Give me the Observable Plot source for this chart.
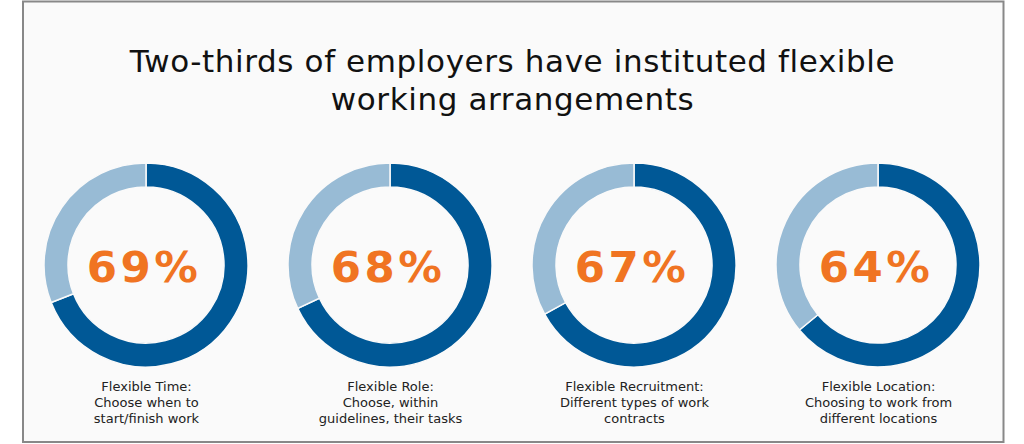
<!DOCTYPE html>
<html><head><meta charset="utf-8">
<script src="https://cdn.jsdelivr.net/npm/d3@7"></script>
<script src="https://cdn.jsdelivr.net/npm/@observablehq/plot@0.6"></script>
<style>
html,body{margin:0;padding:0;background:#ffffff;}
svg{display:block;}
</style>
</head><body>
<div id="chart"></div>
<script>
const categories = ["Flexible Time", "Flexible Role", "Flexible Recruitment", "Flexible Location"];
const values = [69, 68, 67, 64];
const descriptions = [
  "Choose when to\nstart/finish work",
  "Choose, within\nguidelines, their tasks",
  "Different types of work\ncontracts",
  "Choosing to work from\ndifferent locations"
];
const titleLines = "Two-thirds of employers have instituted flexible\nworking arrangements";

const data = categories.map((c, i) => ({cat: c, value: values[i], label: `${c}:\n${descriptions[i]}`}));

const darkBlue = "#005896";
const lightBlue = "#98bbd5";
const orange = "#f07422";
const font = "'DejaVu Sans', Verdana, sans-serif";

function donuts(index, scales, values_, dims) {
  const g = d3.create("svg:g");
  const bw = scales.x.bandwidth ? scales.x.bandwidth() : 0;
  const outer = 102, inner = 78, cy = 265;
  const arc = d3.arc().innerRadius(inner).outerRadius(outer);
  for (const d of data) {
    const cx = scales.x(d.cat) + bw / 2;
    const pie = d3.pie().sort(null).value(v => v)([d.value, 100 - d.value]);
    const gg = g.append("g").attr("transform", `translate(${cx},${cy})`);
    gg.selectAll("path").data(pie).join("path")
      .attr("d", arc)
      .attr("fill", (p, i) => i === 0 ? darkBlue : lightBlue)
      .attr("stroke", "#fafafa")
      .attr("stroke-width", 1.5);
  }
  return g.node();
}

const titleMark = Plot.text([titleLines], {
  frameAnchor: "top", dy: 43.5, text: d => d,
  fontSize: 31, fill: "#111", lineHeight: 1.25, lineAnchor: "top", fontFamily: font,
  render(index, scales, values_, dims, context, next) {
    const g = next(index, scales, values_, dims, context);
    g.setAttribute("letter-spacing", "0.6px");
    return g;
  }
});

const pctMark = Plot.text(data, {
  x: "cat", frameAnchor: "top", dy: 267.5, dx: -2.5, text: d => `${d.value}%`,
  fontSize: 43.5, fontWeight: "bold", fill: orange, lineAnchor: "middle", fontFamily: font,
  render(index, scales, values_, dims, context, next) {
    const g = next(index, scales, values_, dims, context);
    g.setAttribute("letter-spacing", "3.5px");
    return g;
  }
});

const plot = Plot.plot({
  width: 1024,
  height: 444,
  margin: 0,
  style: {background: "transparent", fontFamily: font},
  x: {type: "band", domain: categories, range: [22.7, 1001.3], padding: 0, axis: null},
  y: {axis: null},
  marks: [
    () => {
      const r = d3.create("svg:rect")
        .attr("x", 23).attr("y", 1.5).attr("width", 980.5).attr("height", 440.5)
        .attr("fill", "#fafafa").attr("stroke", "#888888").attr("stroke-width", 2);
      return r.node();
    },
    titleMark,
    donuts,
    pctMark,
    Plot.text(data, {
      x: "cat", frameAnchor: "top", dy: 378.5, text: "label",
      fontSize: 13, fill: "#222", lineHeight: 1.25, lineAnchor: "top", fontFamily: font
    })
  ]
});
document.getElementById("chart").appendChild(plot);
</script>
</body></html>
